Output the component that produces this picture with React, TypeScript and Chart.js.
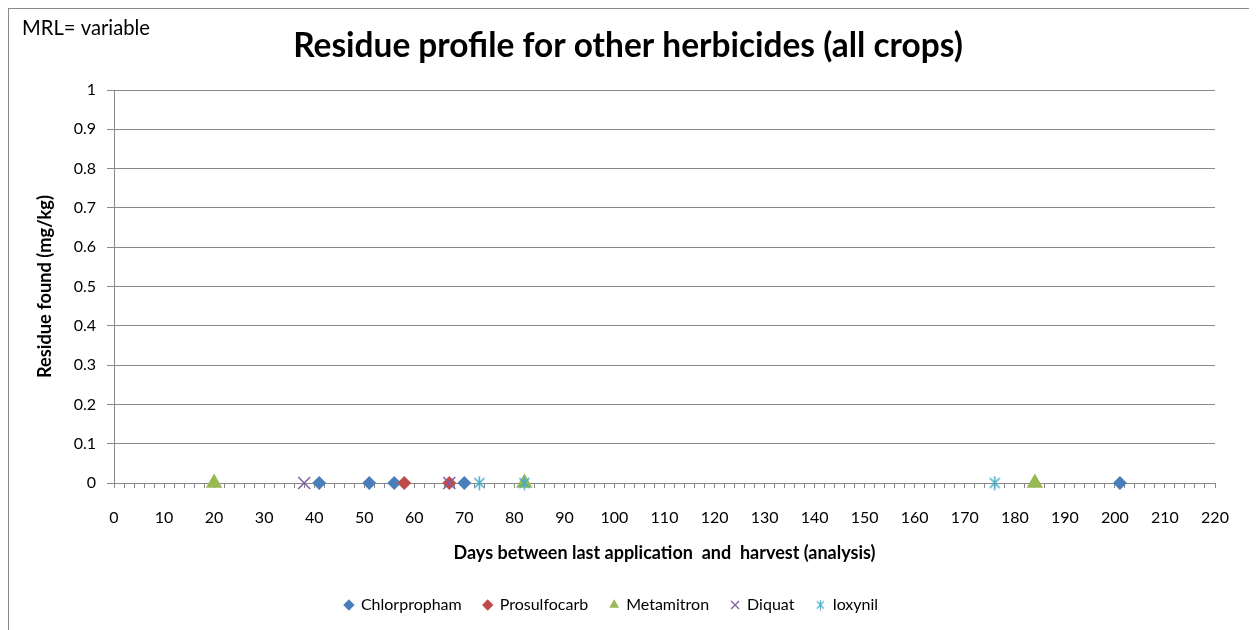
import React, { useEffect, useRef } from 'react';
import { Chart, registerables } from 'chart.js';

Chart.register(...registerables);

// ---- data ----
const seriesNames = ['Chlorpropham', 'Prosulfocarb', 'Metamitron', 'Diquat', 'Ioxynil'];
const chlorprophamDays = [41, 51, 56, 70, 201];
const chlorprophamResidue = [0, 0, 0, 0, 0];
const prosulfocarbDays = [58, 67];
const prosulfocarbResidue = [0, 0];
const metamitronDays = [20, 82, 184];
const metamitronResidue = [0, 0, 0];
const diquatDays = [38, 67];
const diquatResidue = [0, 0];
const ioxynilDays = [73, 82, 176];
const ioxynilResidue = [0, 0, 0];
const xTickLabels = [0, 10, 20, 30, 40, 50, 60, 70, 80, 90, 100, 110, 120, 130, 140, 150, 160, 170, 180, 190, 200, 210, 220];
const yTickLabels = [0, 0.1, 0.2, 0.3, 0.4, 0.5, 0.6, 0.7, 0.8, 0.9, 1];

const titleText = 'Residue profile for other herbicides (all crops)';
const noteText = 'MRL= variable';
const xTitleText = 'Days between last application  and  harvest (analysis)';
const yTitleText = 'Residue found (mg/kg)';

const FONT = 'Lato, "Noto Sans", sans-serif';
const colors = ['#4A7EBB', '#BE4B48', '#98B954', '#7D60A0', '#46AAC5'];
const GRID = '#888888';

function makeAsterisk(size: number, color: string, lw: number) {
  const c = document.createElement('canvas');
  c.width = size;
  c.height = size;
  const ctx = c.getContext('2d') as CanvasRenderingContext2D;
  ctx.strokeStyle = color;
  ctx.lineWidth = lw;
  const m = size / 2;
  const r = size / 2 - 0.5;
  const d = r * 0.72;
  ctx.beginPath();
  ctx.moveTo(m, m - r);
  ctx.lineTo(m, m + r);
  ctx.moveTo(m - d, m - d);
  ctx.lineTo(m + d, m + d);
  ctx.moveTo(m - d, m + d);
  ctx.lineTo(m + d, m - d);
  ctx.stroke();
  return c;
}

function toPoints(xs: number[], ys: number[]) {
  return xs.map((x, i) => ({ x, y: ys[i] }));
}

function fitSize(ctx: CanvasRenderingContext2D, text: string, weight: string, target: number) {
  ctx.font = `${weight} 20px ${FONT}`;
  const w = ctx.measureText(text).width;
  return (20 * target) / w;
}

const textPlugin = {
  id: 'textPlugin',
  afterDraw(chart: any) {
    const { ctx, chartArea, width, height } = chart;
    ctx.save();
    ctx.strokeStyle = '#8a8a8a';
    ctx.lineWidth = 1;
    ctx.strokeRect(0.5, 0.5, width - 1, height + 10);
    ctx.fillStyle = '#000';
    let s = fitSize(ctx, noteText, 'normal', 128);
    ctx.font = `normal ${s}px ${FONT}`;
    ctx.textAlign = 'left';
    ctx.textBaseline = 'middle';
    ctx.fillText(noteText, 14, 20);
    s = fitSize(ctx, titleText, 'bold', 670);
    ctx.font = `bold ${s}px ${FONT}`;
    ctx.textAlign = 'center';
    ctx.fillText(titleText, 620, 38);
    s = fitSize(ctx, xTitleText, 'bold', 422);
    ctx.font = `bold ${s}px ${FONT}`;
    ctx.fillText(xTitleText, (chartArea.left + chartArea.right) / 2, 545);
    s = fitSize(ctx, yTitleText, 'bold', 183);
    ctx.font = `bold ${s}px ${FONT}`;
    ctx.translate(37, (chartArea.top + chartArea.bottom) / 2);
    ctx.rotate(-Math.PI / 2);
    ctx.fillText(yTitleText, 0, 0);
    ctx.restore();
  },
};

export default function App() {
  const ref = useRef<HTMLCanvasElement | null>(null);
  useEffect(() => {
    if (!ref.current) return;
    const star = makeAsterisk(15, colors[4], 1.5);
    const starSmall = makeAsterisk(11, colors[4], 1.2);
    const seriesData = [
      toPoints(chlorprophamDays, chlorprophamResidue),
      toPoints(prosulfocarbDays, prosulfocarbResidue),
      toPoints(metamitronDays, metamitronResidue),
      toPoints(diquatDays, diquatResidue),
      toPoints(ioxynilDays, ioxynilResidue),
    ];
    const styles: any[] = ['rectRot', 'rectRot', 'triangle', 'crossRot', star];
    const radii = [7, 7, 9.5, 8.5, 7.5];
    const chart = new Chart(ref.current, {
      type: 'scatter',
      data: {
        datasets: seriesNames.map((name, i) => ({
          label: name,
          data: seriesData[i],
          pointStyle: styles[i],
          pointRadius: radii[i],
          pointHoverRadius: radii[i],
          backgroundColor: colors[i],
          borderColor: colors[i],
          borderWidth: i >= 3 ? 1.5 : 0,
          clip: false as any,
          order: 5 - i,
        })),
      },
      plugins: [textPlugin],
      options: {
        animation: false,
        responsive: false,
        maintainAspectRatio: false,
        layout: { padding: { top: 82, left: 0, right: 35, bottom: 15 } },
        plugins: {
          title: { display: false },
          tooltip: { enabled: false },
          legend: {
            position: 'bottom',
            labels: {
              usePointStyle: true,
              boxHeight: 8,
              boxWidth: 8,
              padding: 22,
              color: '#000',
              font: { family: FONT, size: 16 },
              sort: (a: any, b: any) => a.datasetIndex - b.datasetIndex,
              generateLabels: (ch: any) => {
                const items = (Chart.defaults.plugins.legend.labels as any).generateLabels(ch);
                items.forEach((it: any) => {
                  if (it.datasetIndex === 4) it.pointStyle = starSmall;
                  it.lineWidth = it.datasetIndex >= 3 ? 1.2 : 0;
                });
                return items;
              },
            },
          },
        },
        scales: {
          x: {
            type: 'linear',
            min: 0,
            max: 220,
            afterFit: (s: any) => {
              s.height = 92;
            },
            afterBuildTicks: (s: any) => {
              const t: any[] = [];
              for (let v = 0; v <= 220; v += 2) t.push({ value: v });
              s.ticks = t;
            },
            ticks: {
              autoSkip: false,
              maxRotation: 0,
              padding: 20,
              color: '#000',
              font: { family: FONT, size: 16 },
              callback: (v: any) => (xTickLabels.includes(Number(v)) ? String(v) : ''),
            },
            grid: { drawOnChartArea: false, tickLength: 5, color: GRID },
            border: { color: GRID },
          },
          y: {
            min: 0,
            max: 1,
            afterFit: (s: any) => {
              s.width = 106;
            },
            afterBuildTicks: (s: any) => {
              s.ticks = yTickLabels.map((v) => ({ value: v }));
            },
            ticks: {
              padding: 11,
              color: '#000',
              font: { family: FONT, size: 16 },
              callback: (v: any) => String(Math.round(Number(v) * 10) / 10),
            },
            grid: { color: GRID, tickLength: 7 },
            border: { color: GRID },
          },
        },
      },
    });
    return () => chart.destroy();
  }, []);
  return (
    <div style={{ width: 1242, height: 630 }}>
      <canvas ref={ref} width={1242} height={630} style={{ display: 'block' }} />
    </div>
  );
}
